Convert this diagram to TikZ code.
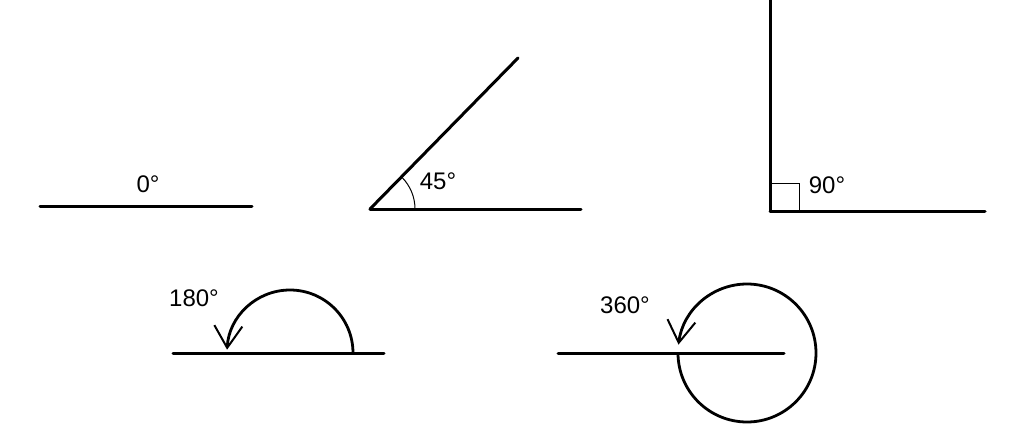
\documentclass[tikz,border=0pt]{standalone}
\usepackage{fontspec}
\setmainfont{Liberation Sans}
\usetikzlibrary{arrows.meta}

\begin{document}
\begin{tikzpicture}[x=0.5pt,y=0.5pt,
    ray/.style={line width=1.5pt,line cap=round},
    thin/.style={line width=0.5pt},
    turn/.style={line width=1.4pt,-{Straight Barb[length=11pt,width=14pt,line width=1pt]}},
    deg/.style={font=\fontsize{12}{12}\selectfont,inner sep=0pt}]
  \useasboundingbox (0,0) rectangle (1024,425);
  % zero angle
  \draw[ray] (40,219) -- (252,219);% only ray
  \node[deg] (zero) at (148,241) {0°};
  % acute angle
  \coordinate (v45) at (370,216);
  \draw[ray] (v45) -- (581,216);% first ray
  \draw[ray] (v45) -- (518,367);% second ray
  \draw[thin] (415,216) arc[start angle=0,end angle=45,radius=45];
  \node[deg] (acute) at (438,244) {45°};
  % right angle
  \coordinate (v90) at (770,214);
  \draw[ray] (v90) -- (985,214);% first ray
  \draw[ray] (v90) -- (770,425);% second ray
  \draw[thin] (v90) rectangle (799,242);
  \node[deg] (right) at (827,240) {90°};
  % straight angle
  \draw[ray] (173,72) -- (384,72);
  \draw[turn] (353,72) arc[start angle=0,end angle=177,radius=63];
  \node[deg] (straight) at (194,127) {180°};
  % full turn
  \draw[ray] (558,72) -- (784,72);
  \draw[turn] (678,72) arc[start angle=180,end angle=533,radius=69];
  \node[deg] (full) at (625,120) {360°};
\end{tikzpicture}
\end{document}
